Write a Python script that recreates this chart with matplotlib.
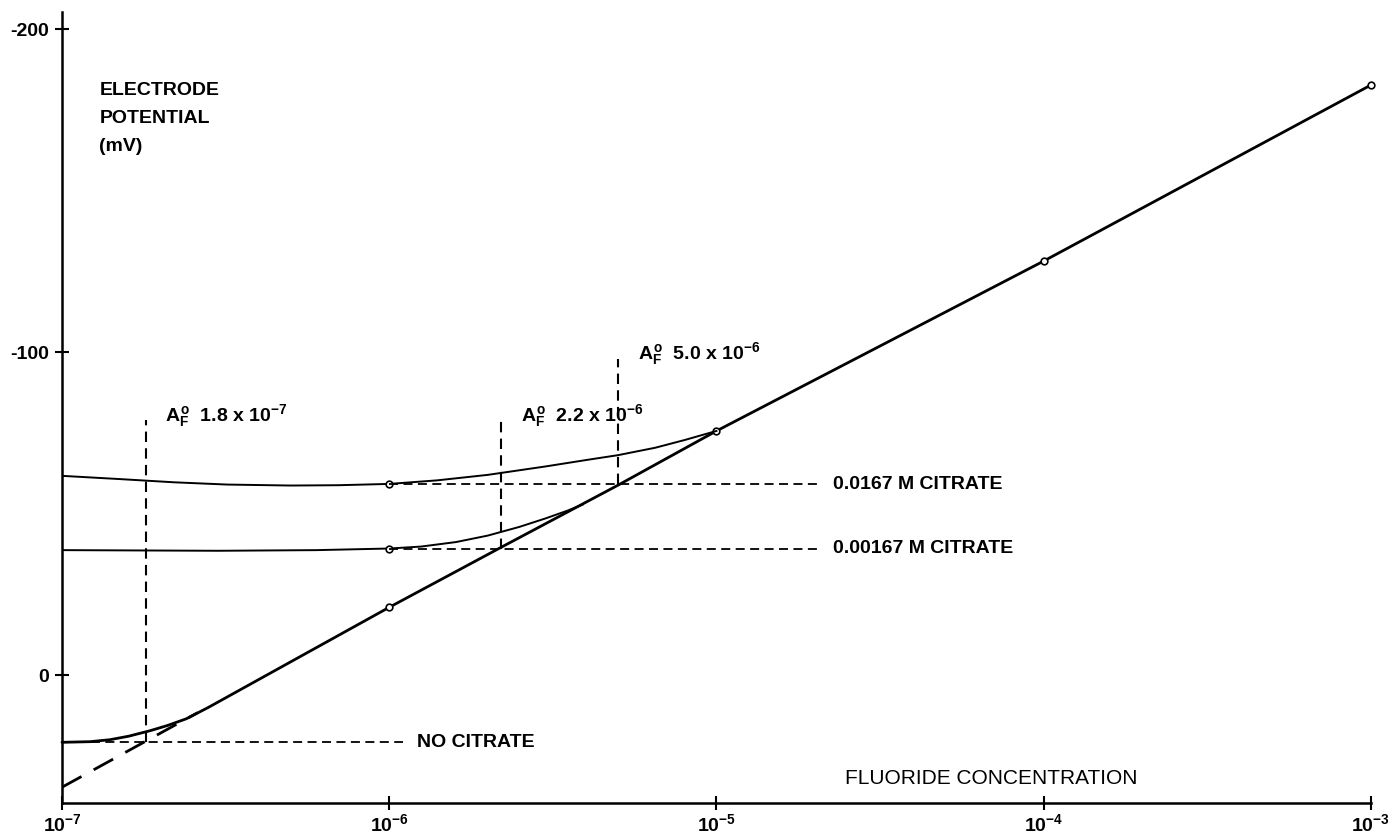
## Electrode potential vs fluoride concentration, with and without citrate.
## Values.

import matplotlib
matplotlib.use("Agg")
import matplotlib.pyplot as plt

plt.rcParams['font.family'] = ['Liberation Sans', 'DejaVu Sans']
plt.rcParams['font.weight'] = 'bold'
plt.rcParams['mathtext.fontset'] = 'custom'
plt.rcParams['mathtext.rm'] = 'Liberation Sans:bold'
plt.rcParams['mathtext.it'] = 'Liberation Sans:bold'
plt.rcParams['mathtext.bf'] = 'Liberation Sans:bold'

# no citrate (Nernstian line with low-concentration bend)
conc_none = [1e-7, 1.22e-7, 1.4e-7, 1.6e-7, 1.86e-7, 2.1e-7, 2.4e-7, 2.8e-7,
             1e-6, 2.2e-6, 5e-6, 1e-5, 1e-4, 1e-3]
mv_none = [20.8, 20.6, 20.0, 18.9, 17.2, 15.6, 13.5, 10.0,
           -21.0, -39.6, -58.8, -75.6, -128.2, -182.7]
marks_none = [8, 11, 12, 13]

# extrapolated straight line at low concentration
conc_extrap = [1e-7, 2.6e-7]
mv_extrap = [34.7, 11.6]

# 0.00167 M citrate
conc_low = [1e-7, 3e-7, 6e-7, 1e-6, 1.25e-6, 1.6e-6, 2e-6, 2.5e-6, 3e-6, 3.5e-6, 3.9e-6]
mv_low = [-38.7, -38.5, -38.7, -39.2, -39.8, -41.2, -43.2, -45.9, -48.5, -50.9, -52.8]

# 0.0167 M citrate
conc_high = [1e-7, 1.5e-7, 2.2e-7, 3.2e-7, 5e-7, 7e-7, 1e-6, 1.4e-6, 2e-6, 3e-6,
             4e-6, 5e-6, 6.5e-6, 8e-6, 1e-5]
mv_high = [-61.7, -60.7, -59.7, -59.0, -58.7, -58.8, -59.2, -60.3, -62.0, -64.6,
           -66.6, -68.1, -70.4, -72.8, -75.6]

# A_F^0 values (intersections) and their reference levels
af_conc = [1.8e-7, 2.2e-6, 5.0e-6]
af_level = [20.8, -39.2, -59.1]
af_top = [-79.0, -79.0, -98.0]
af_text = ['1.8 x 10$^{-7}$', '2.2 x 10$^{-6}$', '5.0 x 10$^{-6}$']

# horizontal reference lines
href_labels = ['NO CITRATE', '0.00167 M CITRATE', '0.0167 M CITRATE']
href_level = [20.8, -39.2, -59.1]
href_start = [1e-7, 1e-6, 1e-6]
href_end = [1.1e-6, 2.07e-5, 2.07e-5]
href_text_x = [1.22e-6, 2.27e-5, 2.27e-5]

xticks = [1e-7, 1e-6, 1e-5, 1e-4, 1e-3]
xticklabels = ['$10^{-7}$', '$10^{-6}$', '$10^{-5}$', '$10^{-4}$', '$10^{-3}$']
yticks = [-200, -100, 0]
yticklabels = ['-200', '-100', '0']

fig = plt.figure(figsize=(13.9, 8.4), dpi=100)
ax = fig.add_axes([0.0446, 0.044, 0.9417, 0.9417])
ax.set_xscale('log')
ax.set_xlim(1e-7, 1e-3)
ax.set_ylim(39.6, -205.3)

dash = (0, (5, 3))
mk = dict(marker='o', ms=4.8, mfc='white', mec='black', mew=1.2)

ax.plot(conc_none, mv_none, color='black', lw=2.0, solid_capstyle='round',
        markevery=marks_none, clip_on=False, **mk)
ax.plot(conc_extrap, mv_extrap, color='black', lw=2.0, linestyle=(0, (8, 5)))
ax.plot(conc_low, mv_low, color='black', lw=1.4, markevery=[3], **mk)
ax.plot(conc_high, mv_high, color='black', lw=1.4, markevery=[6], **mk)

for lvl, x0, x1, lab, tx in zip(href_level, href_start, href_end, href_labels, href_text_x):
    ax.plot([x0, x1], [lvl, lvl], color='black', lw=1.3, linestyle=dash)
    ax.text(tx, lvl, lab, fontsize=14, fontweight='bold', va='center', ha='left')

for c, lvl, top, t in zip(af_conc, af_level, af_top, af_text):
    ax.plot([c, c], [lvl, top], color='black', lw=1.5, linestyle=dash)
    ax.text(c * 1.15, top - 1.5, '$A_F^o$  ' + t, fontsize=14, va='center', ha='left')

ax.text(1.3e-7, -172.4, 'ELECTRODE\nPOTENTIAL\n(mV)', fontsize=14, fontweight='bold',
        va='center', ha='left', linespacing=1.85)
ax.text(2.47e-5, 31.9, 'FLUORIDE CONCENTRATION', fontsize=15, fontweight='normal',
        va='center', ha='left')

for s in ['top', 'right']:
    ax.spines[s].set_visible(False)
for s in ['left', 'bottom']:
    ax.spines[s].set_linewidth(1.8)

ax.set_xticks(xticks)
ax.set_xticklabels(xticklabels, fontsize=14)
ax.minorticks_off()
ax.set_yticks(yticks)
ax.set_yticklabels(yticklabels, fontsize=14, fontweight='bold')
ax.tick_params(axis='both', direction='inout', length=10, width=1.5)
ax.tick_params(axis='x', pad=2)
ax.tick_params(axis='y', pad=4)

fig.savefig('out.png', dpi=100)
